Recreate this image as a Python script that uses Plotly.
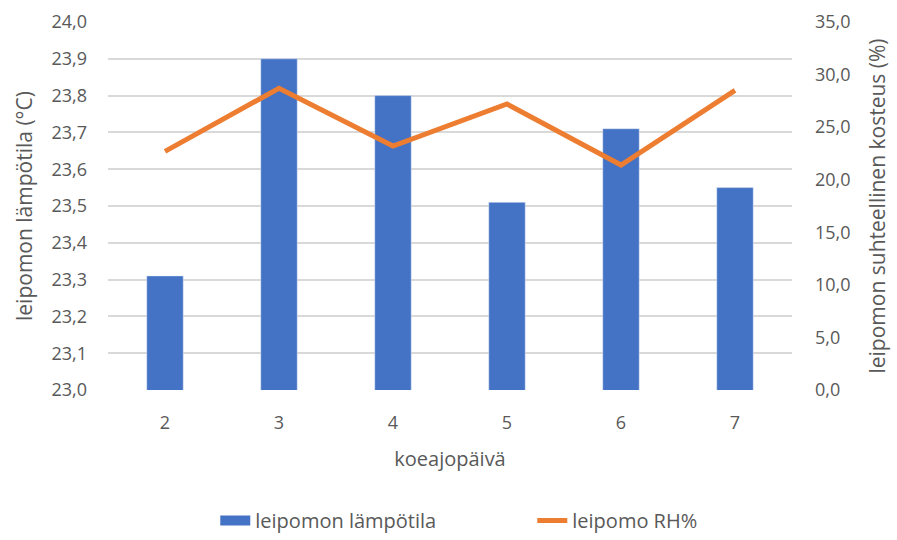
import plotly.graph_objects as go

days = ["2", "3", "4", "5", "6", "7"]
temperature = [23.31, 23.90, 23.80, 23.51, 23.71, 23.55]
humidity = [22.7, 28.7, 23.2, 27.2, 21.4, 28.5]

FONT = "Open Sans"
GREY = "#595959"
BLUE = "#4472C4"
ORANGE = "#ED7D31"

fig = go.Figure()
fig.add_trace(go.Bar(
    x=days, y=temperature, name="leipomon lämpötila",
    marker=dict(color=BLUE), width=0.32, yaxis="y",
    showlegend=False, legendgroup="temp",
))
# legend key drawn as a wide flat swatch for the bar series
fig.add_trace(go.Scatter(
    x=[None], y=[None], name="leipomon lämpötila", mode="lines",
    line=dict(color=BLUE, width=12), legendgroup="temp", hoverinfo="skip",
))
fig.add_trace(go.Scatter(
    x=days, y=humidity, name="leipomo RH%", mode="lines",
    line=dict(color=ORANGE, width=5), yaxis="y2",
))

fig.update_layout(
    width=897, height=540,
    margin=dict(l=108, r=105, t=22, b=150, autoexpand=False),
    paper_bgcolor="white", plot_bgcolor="white",
    separators=", ",
    font=dict(family=FONT, size=18, color=GREY),
    showlegend=True,
    legend=dict(orientation="h", xref="container", x=0.24, xanchor="left",
                yref="container", y=0.0, yanchor="bottom",
                entrywidth=272, entrywidthmode="pixels",
                font=dict(size=20, color=GREY), traceorder="normal"),
    xaxis=dict(
        title=dict(text="koeajopäivä", font=dict(size=20, color=GREY), standoff=18),
        showgrid=False, showline=False, ticks="",
        tickfont=dict(size=18, color=GREY), ticklabelstandoff=20,
    ),
    yaxis=dict(
        range=[23.0, 24.0], dtick=0.1, tickformat=".1f",
        showgrid=True, gridcolor="#D9D9D9", gridwidth=1.5,
        zeroline=False, showline=False, ticks="",
        tickfont=dict(size=18, color=GREY), ticklabelstandoff=20,
        title=dict(text="leipomon lämpötila (°C)", font=dict(size=21, color=GREY), standoff=13),
    ),
    yaxis2=dict(
        range=[0, 35], dtick=5, tickformat=".1f", overlaying="y", side="right",
        showgrid=False, zeroline=False, showline=False, ticks="",
        tickfont=dict(size=18, color=GREY), ticklabelstandoff=22,
        title=dict(text="leipomon suhteellinen kosteus (%)", font=dict(size=21, color=GREY), standoff=20),
    ),
)

fig.write_html("out.html")
